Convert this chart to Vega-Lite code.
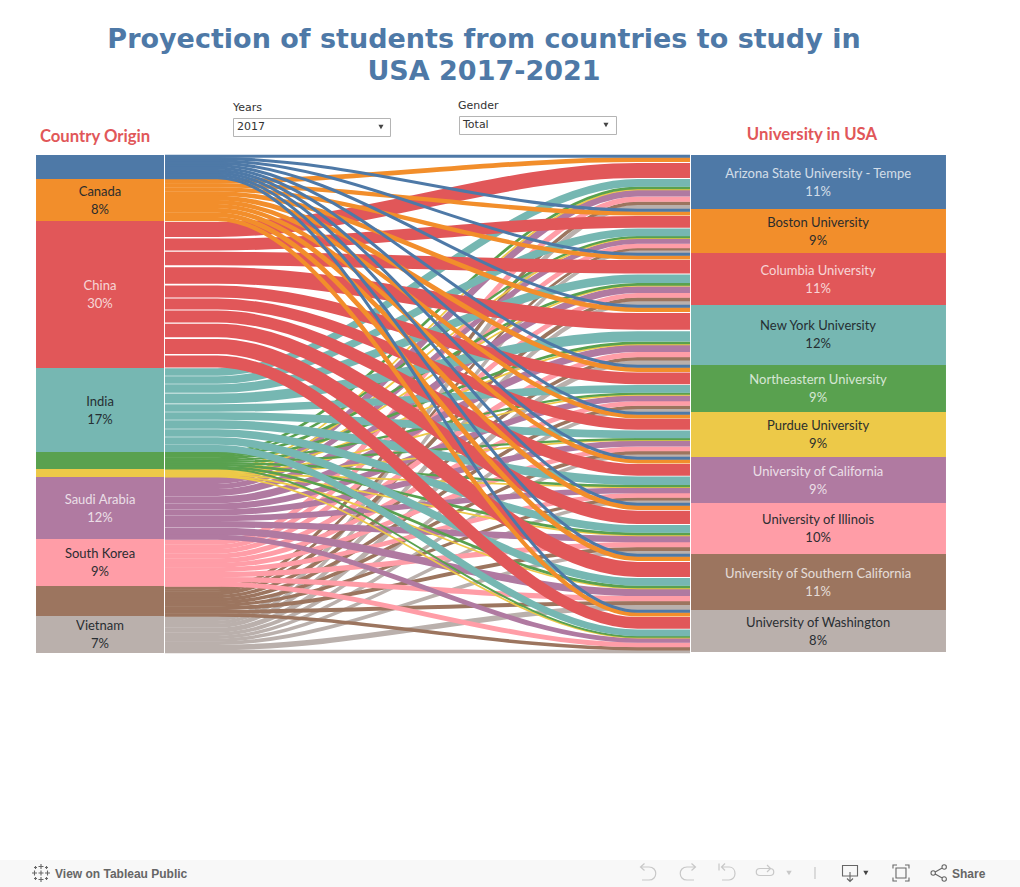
{"$schema":"https://vega.github.io/schema/vega-lite/v6.json","width":1020,"height":887,"padding":0,"autosize":"none","background":"white","view":{"stroke":null},
"title":{"text":["Proyection of students from countries to study in","USA 2017-2021"],"anchor":"middle","dx":-26,"dy":86,"font":"DejaVu Sans","fontSize":27,"fontWeight":"bold","color":"#4e79a7","lineHeight":32,"offset":0},
"resolve":{"scale":{"shape":"independent"}},
"datasets":{
"links":[
{"c":"Vietnam","u":"ASU","w":4.3,"x":[0,10,90,100],"y":[463.65,463.65,51.85,51.85]},
{"c":"Vietnam","u":"Boston","w":2.9,"x":[0,10,90,100],"y":[467.25,467.25,96.55,96.55]},
{"c":"Vietnam","u":"Columbia","w":3.9,"x":[0,10,90,100],"y":[470.65,470.65,148.05,148.05]},
{"c":"Vietnam","u":"NYU","w":4.8,"x":[0,10,90,100],"y":[475,475,207.6,207.6]},
{"c":"Vietnam","u":"Northeastern","w":3.3,"x":[0,10,90,100],"y":[479.05,479.05,255.35,255.35]},
{"c":"Vietnam","u":"Purdue","w":2.9,"x":[0,10,90,100],"y":[482.15,482.15,300.55,300.55]},
{"c":"Vietnam","u":"California","w":2.9,"x":[0,10,90,100],"y":[485.05,485.05,346.55,346.55]},
{"c":"Vietnam","u":"Illinois","w":3.3,"x":[0,10,90,100],"y":[488.15,488.15,397.35,397.35]},
{"c":"Vietnam","u":"USC","w":5.3,"x":[0,10,90,100],"y":[492.45,492.45,452.35,452.35]},
{"c":"Vietnam","u":"Washington","w":2.9,"x":[0,10,90,100],"y":[496.55,496.55,496.55,496.55]},
{"c":"Unlabelled D","u":"ASU","w":3,"x":[0,10,90,100],"y":[433,433,48.2,48.2]},
{"c":"Unlabelled D","u":"Boston","w":2,"x":[0,10,90,100],"y":[435.5,435.5,94.1,94.1]},
{"c":"Unlabelled D","u":"Columbia","w":3.5,"x":[0,10,90,100],"y":[438.25,438.25,144.35,144.35]},
{"c":"Unlabelled D","u":"NYU","w":3,"x":[0,10,90,100],"y":[441.5,441.5,203.7,203.7]},
{"c":"Unlabelled D","u":"Northeastern","w":3,"x":[0,10,90,100],"y":[444.5,444.5,252.2,252.2]},
{"c":"Unlabelled D","u":"Purdue","w":3,"x":[0,10,90,100],"y":[447.5,447.5,297.6,297.6]},
{"c":"Unlabelled D","u":"California","w":2.5,"x":[0,10,90,100],"y":[450.25,450.25,343.85,343.85]},
{"c":"Unlabelled D","u":"Illinois","w":3.5,"x":[0,10,90,100],"y":[453.25,453.25,393.95,393.95]},
{"c":"Unlabelled D","u":"USC","w":3.5,"x":[0,10,90,100],"y":[456.75,456.75,447.95,447.95]},
{"c":"Unlabelled D","u":"Washington","w":3,"x":[0,10,90,100],"y":[460,460,493.6,493.6]},
{"c":"South Korea","u":"ASU","w":5,"x":[0,10,90,100],"y":[387,387,44.2,44.2]},
{"c":"South Korea","u":"Boston","w":4.5,"x":[0,10,90,100],"y":[391.75,391.75,90.85,90.85]},
{"c":"South Korea","u":"Columbia","w":4.5,"x":[0,10,90,100],"y":[396.25,396.25,140.35,140.35]},
{"c":"South Korea","u":"NYU","w":5,"x":[0,10,90,100],"y":[401,401,199.7,199.7]},
{"c":"South Korea","u":"Northeastern","w":4.5,"x":[0,10,90,100],"y":[405.75,405.75,248.45,248.45]},
{"c":"South Korea","u":"Purdue","w":4.5,"x":[0,10,90,100],"y":[410.25,410.25,293.85,293.85]},
{"c":"South Korea","u":"California","w":4.5,"x":[0,10,90,100],"y":[414.75,414.75,340.35,340.35]},
{"c":"South Korea","u":"Illinois","w":5,"x":[0,10,90,100],"y":[419.5,419.5,389.7,389.7]},
{"c":"South Korea","u":"USC","w":5,"x":[0,10,90,100],"y":[424.5,424.5,443.7,443.7]},
{"c":"South Korea","u":"Washington","w":4.5,"x":[0,10,90,100],"y":[429.25,429.25,489.85,489.85]},
{"c":"Saudi Arabia","u":"ASU","w":7,"x":[0,10,90,100],"y":[325.5,325.5,38.2,38.2]},
{"c":"Saudi Arabia","u":"Boston","w":5,"x":[0,10,90,100],"y":[331.5,331.5,86.1,86.1]},
{"c":"Saudi Arabia","u":"Columbia","w":7,"x":[0,10,90,100],"y":[337.5,337.5,134.6,134.6]},
{"c":"Saudi Arabia","u":"NYU","w":7.5,"x":[0,10,90,100],"y":[344.75,344.75,193.45,193.45]},
{"c":"Saudi Arabia","u":"Northeastern","w":6,"x":[0,10,90,100],"y":[351.5,351.5,243.2,243.2]},
{"c":"Saudi Arabia","u":"Purdue","w":6,"x":[0,10,90,100],"y":[357.5,357.5,288.6,288.6]},
{"c":"Saudi Arabia","u":"California","w":5.5,"x":[0,10,90,100],"y":[363.25,363.25,335.35,335.35]},
{"c":"Saudi Arabia","u":"Illinois","w":6.5,"x":[0,10,90,100],"y":[369.25,369.25,383.95,383.95]},
{"c":"Saudi Arabia","u":"USC","w":7.5,"x":[0,10,90,100],"y":[376.25,376.25,437.45,437.45]},
{"c":"Saudi Arabia","u":"Washington","w":4.5,"x":[0,10,90,100],"y":[382.25,382.25,485.35,485.35]},
{"c":"Unlabelled C","u":"ASU","w":0.8,"x":[0,10,90,100],"y":[314.4,314.4,34.3,34.3]},
{"c":"Unlabelled C","u":"Boston","w":0.8,"x":[0,10,90,100],"y":[315.2,315.2,83.2,83.2]},
{"c":"Unlabelled C","u":"Columbia","w":0.8,"x":[0,10,90,100],"y":[316,316,130.7,130.7]},
{"c":"Unlabelled C","u":"NYU","w":0.8,"x":[0,10,90,100],"y":[316.8,316.8,189.3,189.3]},
{"c":"Unlabelled C","u":"Northeastern","w":0.8,"x":[0,10,90,100],"y":[317.6,317.6,239.8,239.8]},
{"c":"Unlabelled C","u":"Purdue","w":0.8,"x":[0,10,90,100],"y":[318.4,318.4,285.2,285.2]},
{"c":"Unlabelled C","u":"California","w":0.8,"x":[0,10,90,100],"y":[319.2,319.2,332.2,332.2]},
{"c":"Unlabelled C","u":"Illinois","w":0.8,"x":[0,10,90,100],"y":[320,320,380.3,380.3]},
{"c":"Unlabelled C","u":"USC","w":0.8,"x":[0,10,90,100],"y":[320.8,320.8,433.3,433.3]},
{"c":"Unlabelled C","u":"Washington","w":0.8,"x":[0,10,90,100],"y":[321.6,321.6,482.7,482.7]},
{"c":"Unlabelled B","u":"ASU","w":2,"x":[0,10,90,100],"y":[298,298,32.9,32.9]},
{"c":"Unlabelled B","u":"Boston","w":1.5,"x":[0,10,90,100],"y":[299.75,299.75,82.05,82.05]},
{"c":"Unlabelled B","u":"Columbia","w":2,"x":[0,10,90,100],"y":[301.5,301.5,129.3,129.3]},
{"c":"Unlabelled B","u":"NYU","w":2,"x":[0,10,90,100],"y":[303.5,303.5,187.9,187.9]},
{"c":"Unlabelled B","u":"Northeastern","w":1.5,"x":[0,10,90,100],"y":[305.25,305.25,238.65,238.65]},
{"c":"Unlabelled B","u":"Purdue","w":1.5,"x":[0,10,90,100],"y":[306.75,306.75,284.05,284.05]},
{"c":"Unlabelled B","u":"California","w":1.5,"x":[0,10,90,100],"y":[308.25,308.25,331.05,331.05]},
{"c":"Unlabelled B","u":"Illinois","w":2,"x":[0,10,90,100],"y":[310,310,378.9,378.9]},
{"c":"Unlabelled B","u":"USC","w":2,"x":[0,10,90,100],"y":[312,312,431.9,431.9]},
{"c":"Unlabelled B","u":"Washington","w":1,"x":[0,10,90,100],"y":[313.5,313.5,481.8,481.8]},
{"c":"India","u":"ASU","w":8,"x":[0,10,90,100],"y":[217,217,27.9,27.9]},
{"c":"India","u":"Boston","w":8,"x":[0,10,90,100],"y":[225,225,77.3,77.3]},
{"c":"India","u":"Columbia","w":9,"x":[0,10,90,100],"y":[233.5,233.5,123.8,123.8]},
{"c":"India","u":"NYU","w":11,"x":[0,10,90,100],"y":[243.5,243.5,181.4,181.4]},
{"c":"India","u":"Northeastern","w":8,"x":[0,10,90,100],"y":[253,253,233.9,233.9]},
{"c":"India","u":"Purdue","w":8,"x":[0,10,90,100],"y":[261,261,279.3,279.3]},
{"c":"India","u":"California","w":9,"x":[0,10,90,100],"y":[269.5,269.5,325.8,325.8]},
{"c":"India","u":"Illinois","w":8,"x":[0,10,90,100],"y":[278,278,373.9,373.9]},
{"c":"India","u":"USC","w":8,"x":[0,10,90,100],"y":[286,286,426.9,426.9]},
{"c":"India","u":"Washington","w":7,"x":[0,10,90,100],"y":[293.5,293.5,477.8,477.8]},
{"c":"China","u":"ASU","w":17,"x":[0,10,90,100],"y":[74.5,74.5,15.4,15.4]},
{"c":"China","u":"Boston","w":13,"x":[0,10,90,100],"y":[89.5,89.5,66.8,66.8]},
{"c":"China","u":"Columbia","w":15,"x":[0,10,90,100],"y":[103.5,103.5,111.8,111.8]},
{"c":"China","u":"NYU","w":19,"x":[0,10,90,100],"y":[120.5,120.5,166.4,166.4]},
{"c":"China","u":"Northeastern","w":13,"x":[0,10,90,100],"y":[136.5,136.5,223.4,223.4]},
{"c":"China","u":"Purdue","w":12,"x":[0,10,90,100],"y":[149,149,269.3,269.3]},
{"c":"China","u":"California","w":13,"x":[0,10,90,100],"y":[161.5,161.5,314.8,314.8]},
{"c":"China","u":"Illinois","w":15,"x":[0,10,90,100],"y":[175.5,175.5,362.4,362.4]},
{"c":"China","u":"USC","w":17,"x":[0,10,90,100],"y":[191.5,191.5,414.4,414.4]},
{"c":"China","u":"Washington","w":13,"x":[0,10,90,100],"y":[206.5,206.5,467.8,467.8]},
{"c":"Canada","u":"ASU","w":4.5,"x":[0,10,90,100],"y":[26.25,26.25,4.65,4.65]},
{"c":"Canada","u":"Boston","w":3.9,"x":[0,10,90,100],"y":[30.45,30.45,58.35,58.35]},
{"c":"Canada","u":"Columbia","w":3.9,"x":[0,10,90,100],"y":[34.35,34.35,102.35,102.35]},
{"c":"Canada","u":"NYU","w":4.5,"x":[0,10,90,100],"y":[38.55,38.55,154.65,154.65]},
{"c":"Canada","u":"Northeastern","w":4.5,"x":[0,10,90,100],"y":[43.05,43.05,214.65,214.65]},
{"c":"Canada","u":"Purdue","w":3.9,"x":[0,10,90,100],"y":[47.25,47.25,261.35,261.35]},
{"c":"Canada","u":"California","w":3.9,"x":[0,10,90,100],"y":[51.15,51.15,306.35,306.35]},
{"c":"Canada","u":"Illinois","w":4.5,"x":[0,10,90,100],"y":[55.35,55.35,352.65,352.65]},
{"c":"Canada","u":"USC","w":4.5,"x":[0,10,90,100],"y":[59.85,59.85,403.65,403.65]},
{"c":"Canada","u":"Washington","w":3.9,"x":[0,10,90,100],"y":[64.05,64.05,459.35,459.35]},
{"c":"Unlabelled A","u":"ASU","w":2.4,"x":[0,10,90,100],"y":[1.2,1.2,1.2,1.2]},
{"c":"Unlabelled A","u":"Boston","w":2.4,"x":[0,10,90,100],"y":[3.6,3.6,55.2,55.2]},
{"c":"Unlabelled A","u":"Columbia","w":2.4,"x":[0,10,90,100],"y":[6,6,99.2,99.2]},
{"c":"Unlabelled A","u":"NYU","w":2.4,"x":[0,10,90,100],"y":[8.4,8.4,151.2,151.2]},
{"c":"Unlabelled A","u":"Northeastern","w":2.4,"x":[0,10,90,100],"y":[10.8,10.8,211.2,211.2]},
{"c":"Unlabelled A","u":"Purdue","w":2.4,"x":[0,10,90,100],"y":[13.2,13.2,258.2,258.2]},
{"c":"Unlabelled A","u":"California","w":2.4,"x":[0,10,90,100],"y":[15.6,15.6,303.2,303.2]},
{"c":"Unlabelled A","u":"Illinois","w":2.4,"x":[0,10,90,100],"y":[18,18,349.2,349.2]},
{"c":"Unlabelled A","u":"USC","w":2.4,"x":[0,10,90,100],"y":[20.4,20.4,400.2,400.2]},
{"c":"Unlabelled A","u":"Washington","w":2.4,"x":[0,10,90,100],"y":[22.8,22.8,456.2,456.2]}
],
"nodes":[
{"n":"Unlabelled A","x":-24.57,"x1":-0.19,"y":0,"y1":24},
{"n":"Canada","x":-24.57,"x1":-0.19,"y":24,"y1":66},
{"n":"China","x":-24.57,"x1":-0.19,"y":66,"y1":213},
{"n":"India","x":-24.57,"x1":-0.19,"y":213,"y1":297},
{"n":"Unlabelled B","x":-24.57,"x1":-0.19,"y":297,"y1":314},
{"n":"Unlabelled C","x":-24.57,"x1":-0.19,"y":314,"y1":322},
{"n":"Saudi Arabia","x":-24.57,"x1":-0.19,"y":322,"y1":384},
{"n":"South Korea","x":-24.57,"x1":-0.19,"y":384,"y1":431},
{"n":"Unlabelled D","x":-24.57,"x1":-0.19,"y":431,"y1":461},
{"n":"Vietnam","x":-24.57,"x1":-0.19,"y":461,"y1":498},
{"n":"Arizona State University - Tempe","x":100.19,"x1":148.76,"y":0,"y1":54},
{"n":"Boston University","x":100.19,"x1":148.76,"y":54,"y1":98},
{"n":"Columbia University","x":100.19,"x1":148.76,"y":98,"y1":150},
{"n":"New York University","x":100.19,"x1":148.76,"y":150,"y1":210},
{"n":"Northeastern University","x":100.19,"x1":148.76,"y":210,"y1":257},
{"n":"Purdue University","x":100.19,"x1":148.76,"y":257,"y1":302},
{"n":"University of California","x":100.19,"x1":148.76,"y":302,"y1":348},
{"n":"University of Illinois","x":100.19,"x1":148.76,"y":348,"y1":399},
{"n":"University of Southern California","x":100.19,"x1":148.76,"y":399,"y1":455},
{"n":"University of Washington","x":100.19,"x1":148.76,"y":455,"y1":497}
],
"darkLabels":[
{"label":"Canada|8%","x":-12.38,"y":46},
{"label":"India|17%","x":-12.38,"y":256},
{"label":"South Korea|9%","x":-12.38,"y":408},
{"label":"Vietnam|7%","x":-12.38,"y":480},
{"label":"Boston University|9%","x":124.4,"y":77},
{"label":"New York University|12%","x":124.4,"y":180},
{"label":"Purdue University|9%","x":124.4,"y":280},
{"label":"University of Illinois|10%","x":124.4,"y":374},
{"label":"University of Washington|8%","x":124.4,"y":477}
],
"lightLabels":[
{"label":"China|30%","x":-12.38,"y":140},
{"label":"Saudi Arabia|12%","x":-12.38,"y":354},
{"label":"Arizona State University - Tempe|11%","x":124.4,"y":28},
{"label":"Columbia University|11%","x":124.4,"y":125},
{"label":"Northeastern University|9%","x":124.4,"y":234},
{"label":"University of California|9%","x":124.4,"y":326},
{"label":"University of Southern California|11%","x":124.4,"y":428}
],
"headings":[
{"label":"Country Origin","x":-13.33,"y":-18.5},
{"label":"University in USA","x":123.24,"y":-20.5}
],
"boxes":[
{"x":13.05,"x1":42.95,"y":-36.5,"y1":-18.5},
{"x":56.1,"x1":86,"y":-38.5,"y1":-20.5}
],
"controls":[
{"label":"Years","x":12.95,"y":-47},
{"label":"Gender","x":55.8,"y":-49},
{"label":"2017","x":13.71,"y":-28},
{"label":"Total","x":56.76,"y":-30}
],
"darkTriangles":[
{"x":41.14,"y":-28},
{"x":84,"y":-30},
{"x":133.5,"y":718}
],
"paleTriangles":[{"x":118.86,"y":718}],
"paleIcons":[
{"icon":"undo","x":92,"y":718},
{"icon":"redo","x":99.62,"y":718},
{"icon":"undoall","x":107.05,"y":718},
{"icon":"redoall","x":114.29,"y":717},
{"icon":"divider","x":123.81,"y":718}
],
"darkIcons":[
{"icon":"download","x":130.48,"y":718},
{"icon":"fullscreen","x":140.19,"y":718},
{"icon":"share","x":147.43,"y":718},
{"icon":"logo","x":-23.62,"y":718}
],
"footerText":[
{"label":"View on Tableau Public","x":-20.95,"y":718.5},
{"label":"Share","x":149.9,"y":718.5}
],
"band":[{"x":-31.43,"x1":162.86,"y":705,"y1":732}]
},
"data":{"name":"links"},
"encoding":{
"x":{"field":"x","type":"quantitative","axis":null,"scale":{"domain":[-31.43,162.86],"nice":false,"zero":false}},
"y":{"field":"y","type":"quantitative","axis":null,"scale":{"domain":[-155,732],"reverse":true,"nice":false,"zero":false}}
},
"layer":[
{"data":{"name":"band"},"mark":{"type":"rect","color":"#f8f8f8"},"encoding":{"x2":{"field":"x1"},"y2":{"field":"y1"}}},
{"data":{"name":"links"},"transform":[{"flatten":["x","y"]}],
"mark":{"type":"line","interpolate":"monotone","strokeCap":"butt","strokeJoin":"round"},
"encoding":{
"detail":{"field":"u"},
"color":{"field":"c","type":"nominal","legend":null,"sort":null,"scale":{"domain":["Unlabelled A","Canada","China","India","Unlabelled B","Unlabelled C","Saudi Arabia","South Korea","Unlabelled D","Vietnam"],"range":["#4e79a7","#f28e2b","#e15759","#76b7b2","#59a14f","#edc948","#b07aa1","#ff9da7","#9c755f","#bab0ac"]}},
"strokeWidth":{"field":"w","type":"quantitative","legend":null,"scale":{"domain":[0,20],"range":[1.1,17.5]}}
}},
{"data":{"name":"nodes"},"mark":{"type":"rect"},
"encoding":{"x2":{"field":"x1"},"y2":{"field":"y1"},
"fill":{"field":"n","type":"nominal","legend":null,"sort":null,"scale":{"domain":["Unlabelled A","Canada","China","India","Unlabelled B","Unlabelled C","Saudi Arabia","South Korea","Unlabelled D","Vietnam","Arizona State University - Tempe","Boston University","Columbia University","New York University","Northeastern University","Purdue University","University of California","University of Illinois","University of Southern California","University of Washington"],"range":["#4e79a7","#f28e2b","#e15759","#76b7b2","#59a14f","#edc948","#b07aa1","#ff9da7","#9c755f","#bab0ac","#4e79a7","#f28e2b","#e15759","#76b7b2","#59a14f","#edc948","#b07aa1","#ff9da7","#9c755f","#bab0ac"]}}}},
{"data":{"name":"darkLabels"},"mark":{"type":"text","font":"Lato","fontSize":13,"lineBreak":"|","lineHeight":18,"align":"center","baseline":"middle","dy":-9,"color":"#22282c","opacity":0.95},"encoding":{"text":{"field":"label"}}},
{"data":{"name":"lightLabels"},"mark":{"type":"text","font":"Lato","fontSize":13,"lineBreak":"|","lineHeight":18,"align":"center","baseline":"middle","dy":-9,"color":"#ffffff","opacity":0.75},"encoding":{"text":{"field":"label"}}},
{"data":{"name":"headings"},"mark":{"type":"text","font":"Lato","fontSize":16.7,"fontWeight":"bold","align":"center","baseline":"middle","color":"#e15759"},"encoding":{"text":{"field":"label"}}},
{"data":{"name":"boxes"},"mark":{"type":"rect","fill":"white","stroke":"#b4b4b4","strokeWidth":1},"encoding":{"x2":{"field":"x1"},"y2":{"field":"y1"}}},
{"data":{"name":"controls"},"mark":{"type":"text","font":"DejaVu Sans","fontSize":11,"align":"left","baseline":"middle","color":"#333333"},"encoding":{"text":{"field":"label"}}},
{"data":{"name":"darkTriangles"},"mark":{"type":"point","shape":"triangle-down","filled":true,"size":26,"color":"#444444","opacity":1}},
{"data":{"name":"paleTriangles"},"mark":{"type":"point","shape":"triangle-down","filled":true,"size":30,"color":"#c8c8c8","opacity":1}},
{"data":{"name":"paleIcons"},"mark":{"type":"point","filled":false,"size":400,"color":"#c8c8c8","opacity":1,"strokeWidth":1.2},
"encoding":{"shape":{"field":"icon","type":"nominal","legend":null,"scale":{"domain":["undo","redo","undoall","redoall","divider"],"range":["M-0.7 -0.6H0.1C1 -0.6 1 0.7 0.1 0.7H-0.6M-0.35 -0.95L-0.75 -0.6L-0.35 -0.25","M0.7 -0.6H-0.1C-1 -0.6 -1 0.7 -0.1 0.7H0.6M0.35 -0.95L0.75 -0.6L0.35 -0.25","M-0.5 -0.6H0.2C1 -0.6 1 0.7 0.2 0.7H-0.5M-0.2 -0.95L-0.55 -0.6L-0.2 -0.25M-0.8 -0.95V-0.25","M0.5 -0.35H-0.5C-1 -0.35 -1 0.35 -0.5 0.35H0.5C1 0.35 1 -0.35 0.5 -0.35M0.2 -0.7L0.55 -0.35L0.2 0","M0 -0.6V0.6"]}}}},
{"data":{"name":"darkIcons"},"mark":{"type":"point","filled":false,"size":400,"color":"#666666","opacity":1,"strokeWidth":1.1},
"encoding":{"shape":{"field":"icon","type":"nominal","legend":null,"scale":{"domain":["download","fullscreen","share","logo"],"range":["M-0.75 -0.75H0.75V0.3H-0.75ZM0 -0.1V0.85M-0.3 0.55L0 0.85L0.3 0.55","M-0.8 -0.45V-0.8H-0.4M0.4 -0.8H0.8V-0.45M0.8 0.45V0.8H0.4M-0.4 0.8H-0.8V0.45M-0.5 -0.5H0.5V0.5H-0.5Z","M-0.8 0A0.22 0.22 0 1 0 -0.36 0A0.22 0.22 0 1 0 -0.8 0M0.3 -0.6A0.22 0.22 0 1 0 0.74 -0.6A0.22 0.22 0 1 0 0.3 -0.6M0.3 0.6A0.22 0.22 0 1 0 0.74 0.6A0.22 0.22 0 1 0 0.3 0.6M-0.38 -0.1L0.32 -0.5M-0.38 0.1L0.32 0.5","M0 -0.9V-0.4M-0.25 -0.65H0.25M0 0.4V0.9M-0.25 0.65H0.25M-0.9 0H-0.4M-0.65 -0.25V0.25M0.4 0H0.9M0.65 -0.25V0.25M0 -0.25V0.25M-0.25 0H0.25M-0.55 -0.7V-0.4M-0.7 -0.55H-0.4M0.55 -0.7V-0.4M0.4 -0.55H0.7M-0.55 0.4V0.7M-0.7 0.55H-0.4M0.55 0.4V0.7M0.4 0.55H0.7"]}}}},
{"data":{"name":"footerText"},"mark":{"type":"text","font":"Liberation Sans","fontSize":12,"fontWeight":"bold","align":"left","baseline":"middle","color":"#666666"},"encoding":{"text":{"field":"label"}}}
]}
